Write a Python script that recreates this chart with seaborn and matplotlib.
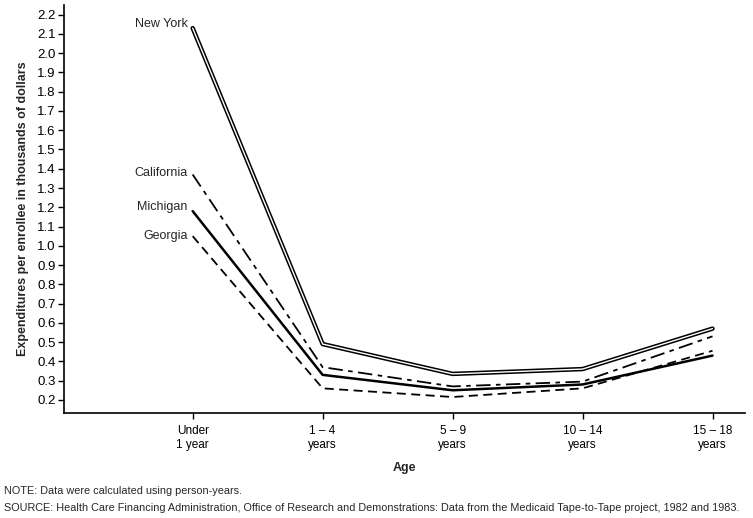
import matplotlib
matplotlib.use("Agg")
import matplotlib.pyplot as plt
import seaborn as sns
import pandas as pd

ages = ["Under\n1 year", "1 – 4\nyears", "5 – 9\nyears", "10 – 14\nyears", "15 – 18\nyears"]
new_york = [2.13, 0.49, 0.335, 0.36, 0.57]
california = [1.37, 0.37, 0.27, 0.295, 0.53]
michigan = [1.18, 0.33, 0.25, 0.28, 0.43]
georgia = [1.05, 0.26, 0.215, 0.26, 0.455]
yticks = [round(0.2 + 0.1 * i, 1) for i in range(21)]

sns.set_theme(style="ticks")
plt.rcParams['font.family'] = ['Liberation Sans', 'DejaVu Sans']

fig = plt.figure(figsize=(7.53, 5.18), dpi=100)
ax = fig.add_axes([64 / 753, 1 - 413 / 518, (745 - 64) / 753, (413 - 5) / 518])

df = pd.DataFrame({"age": ages, "ny": new_york, "ca": california, "mi": michigan, "ga": georgia})

# New York: double line
sns.lineplot(data=df, x="age", y="ny", ax=ax, color="black", linewidth=3.2, sort=False)
sns.lineplot(data=df, x="age", y="ny", ax=ax, color="white", linewidth=1.0, sort=False)
# California: dash-dot
sns.lineplot(data=df, x="age", y="ca", ax=ax, color="black", linewidth=1.3, sort=False)
ax.lines[-1].set_dashes([8, 3, 2.5, 3])
# Michigan: solid thick
sns.lineplot(data=df, x="age", y="mi", ax=ax, color="black", linewidth=1.8, sort=False)
# Georgia: dashed
sns.lineplot(data=df, x="age", y="ga", ax=ax, color="black", linewidth=1.3, sort=False)
ax.lines[-1].set_dashes([5, 3])

ax.set_xlim(-0.99, 4.25)
ax.set_ylim(0.132, 2.25)
ax.set_yticks(yticks)
ax.set_yticklabels([f"{v:.1f}" for v in yticks], fontsize=9.5)
ax.set_xticks(range(len(ages)))
ax.set_xticklabels(ages, fontsize=8.5, linespacing=1.15)
ax.tick_params(axis="both", direction="out", length=4, width=1, colors="black", pad=2)
ax.tick_params(axis="x", pad=5)
for s in ["top", "right"]:
    ax.spines[s].set_visible(False)
for s in ["left", "bottom"]:
    ax.spines[s].set_color("black")
    ax.spines[s].set_linewidth(1.2)

ax.set_ylabel("Expenditures per enrollee in thousands of dollars", fontsize=9, fontweight="bold", labelpad=6)
ax.set_xlabel("Age", fontsize=9, fontweight="bold", labelpad=8)

lab = dict(fontsize=9, ha="right", va="center")
ax.text(-0.04, 2.15, "New York", **lab)
ax.text(-0.04, 1.38, "California", **lab)
ax.text(-0.04, 1.20, "Michigan", **lab)
ax.text(-0.04, 1.05, "Georgia", **lab)

fig.text(4 / 753, 1 - 491 / 518, "NOTE: Data were calculated using person-years.", fontsize=7.8, va="center")
fig.text(4 / 753, 1 - 508 / 518,
         "SOURCE: Health Care Financing Administration, Office of Research and Demonstrations: Data from the Medicaid Tape-to-Tape project, 1982 and 1983.",
         fontsize=7.8, va="center")

fig.savefig("out.png", dpi=100)
